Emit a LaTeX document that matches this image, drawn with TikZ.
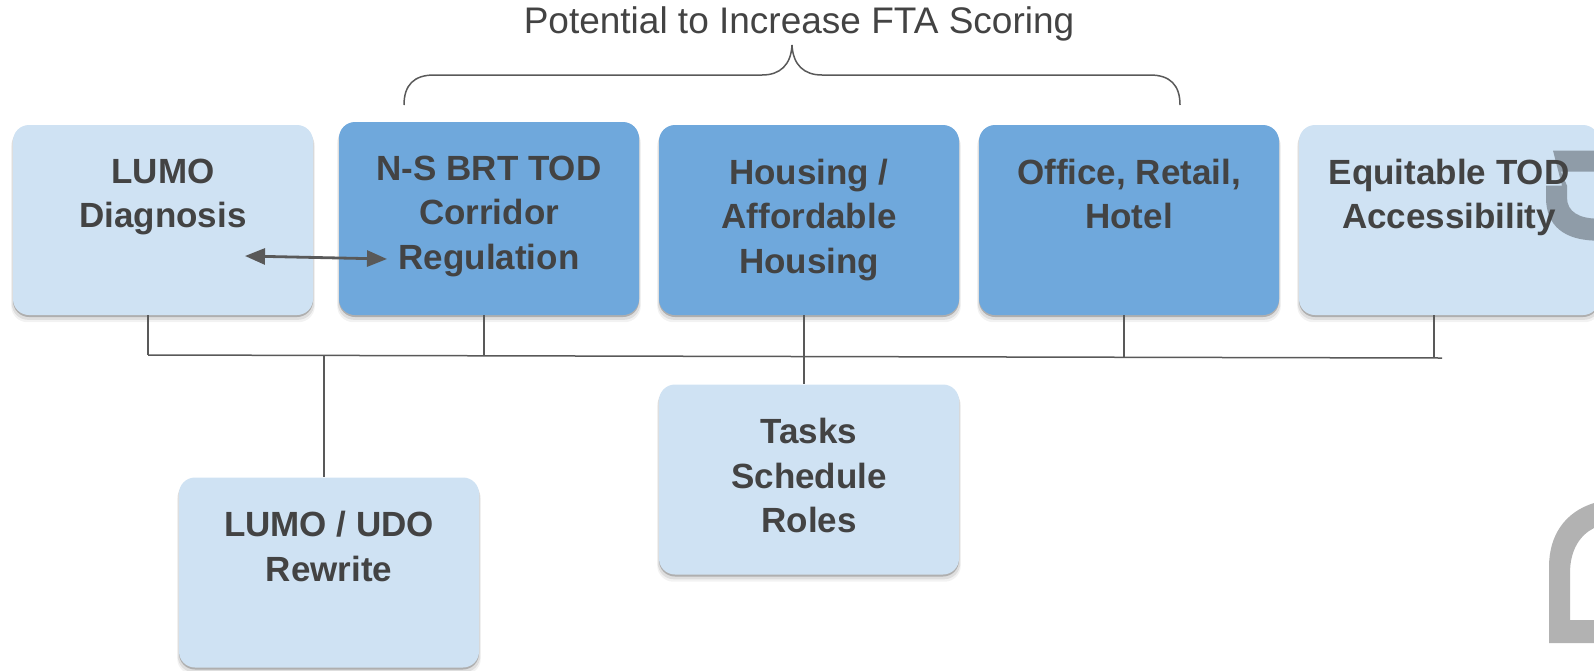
\documentclass[tikz,border=0pt]{standalone}
\usepackage{fontspec}
\setmainfont{Liberation Sans}
\usetikzlibrary{shadows, arrows.meta}
\definecolor{palebox}{HTML}{CFE2F3}
\definecolor{midbox}{HTML}{6FA8DC}
\definecolor{inktxt}{HTML}{434343}
\definecolor{linegrey}{HTML}{595959}
\definecolor{glyphe}{HTML}{8F9CA8}
\newcommand{\boxtxt}[2][95pt]{\parbox[c][#1][t]{150pt}{\centering\vspace*{17pt}#2}}
\begin{document}
\begin{tikzpicture}[x=0.5pt, y=-0.5pt]
\tikzset{boite/.style={rounded corners=8pt, inner sep=0pt, text=inktxt, fill=palebox, font=\fontsize{17.5}{22.25}\selectfont\bfseries,
  drop shadow={shadow xshift=0pt, shadow yshift=-3pt, shadow scale=1.012, opacity=0.1},
  drop shadow={shadow xshift=0pt, shadow yshift=-2pt, shadow scale=1.008, opacity=0.18},
  drop shadow={shadow xshift=0pt, shadow yshift=-1pt, shadow scale=1, opacity=0.5}}}
\tikzset{boitefonce/.style={boite, fill=midbox}}
\tikzset{trait/.style={draw=linegrey, line width=0.75pt}}
\useasboundingbox (0,0) rectangle (1594,670);
\clip (0,0) rectangle (1594,670);
\node[text=inktxt, font=\fontsize{18.5}{20}\selectfont] (T) at (799,24) {Potential to Increase FTA Scoring};
\draw[trait] (404,105) .. controls (404,85) and (414,75) .. (434,75) -- (762,75) .. controls (780,75) and (791,65) .. (792,45) .. controls (793,65) and (804,75) .. (822,75) -- (1150,75) .. controls (1170,75) and (1180,85) .. (1180,105);
% boites du haut
\node[boite] (B1) at (163,220) {\boxtxt{LUMO\\Diagnosis}};
\node[boitefonce] (B2) at (489,218.5) {\boxtxt[96.5pt]{N-S BRT TOD\\Corridor\\Regulation}};
\node[boitefonce] (B3) at (809,220) {\boxtxt{Housing /\\Affordable\\Housing}};
\node[boitefonce] (B4) at (1129,220) {\boxtxt{Office, Retail,\\Hotel}};
\node[boite, path picture={\fill[fill=glyphe, sharp corners] (254,-78) -- (299,-78) -- (299,-57) -- (262,-57) -- (268,-43) -- (268,-31) .. controls (268,-17) and (280,-10) .. (299,-10) -- (299,12) .. controls (265,12) and (247,-3) .. (247,-31) -- (247,-43) -- (263,-43) -- cycle;}] (B5) at (1449,220) {\boxtxt{Equitable TOD\\Accessibility}};
% boites du bas
\node[boite] (B6) at (809,479.5) {\boxtxt{Tasks\\Schedule\\Roles}};
\node[boite] (B7) at (329,572.5) {\boxtxt{LUMO / UDO\\Rewrite}};
% barre
\coordinate (J1) at (148,355);
\coordinate (J2) at (484,355.8);
\coordinate (J3) at (324,355.4);
\coordinate (J4) at (804,356.5);
\coordinate (J5) at (1124,357.3);
\coordinate (J6) at (1434,358);
\coordinate (J7) at (1442,358);
\draw[trait] (J1) -- (J7);
\draw[trait] (J1 |- B1.south) -- (J1);
\draw[trait] (J2 |- B2.south) -- (J2);
\draw[trait] (J4 |- B3.south) -- (J4 |- B6.north);
\draw[trait] (J5 |- B4.south) -- (J5);
\draw[trait] (J6 |- B5.south) -- (J6);
\draw[trait] (J3) -- (J3 |- B7.north);
\coordinate (F1) at (245,256);
\coordinate (F2) at (387,259);
\draw[linegrey, line width=1.4pt, {Triangle[length=10pt,width=8pt]}-{Triangle[length=10pt,width=8pt]}] (F1) -- (F2);
\fill[fill=black!30] (1594,503) .. controls (1565,512) and (1549,535) .. (1549,567) -- (1549,643) -- (1594,643) -- (1594,620) -- (1570,620) -- (1570,573) .. controls (1570,550) and (1580,535) .. (1594,528) -- cycle;
\end{tikzpicture}
\end{document}
